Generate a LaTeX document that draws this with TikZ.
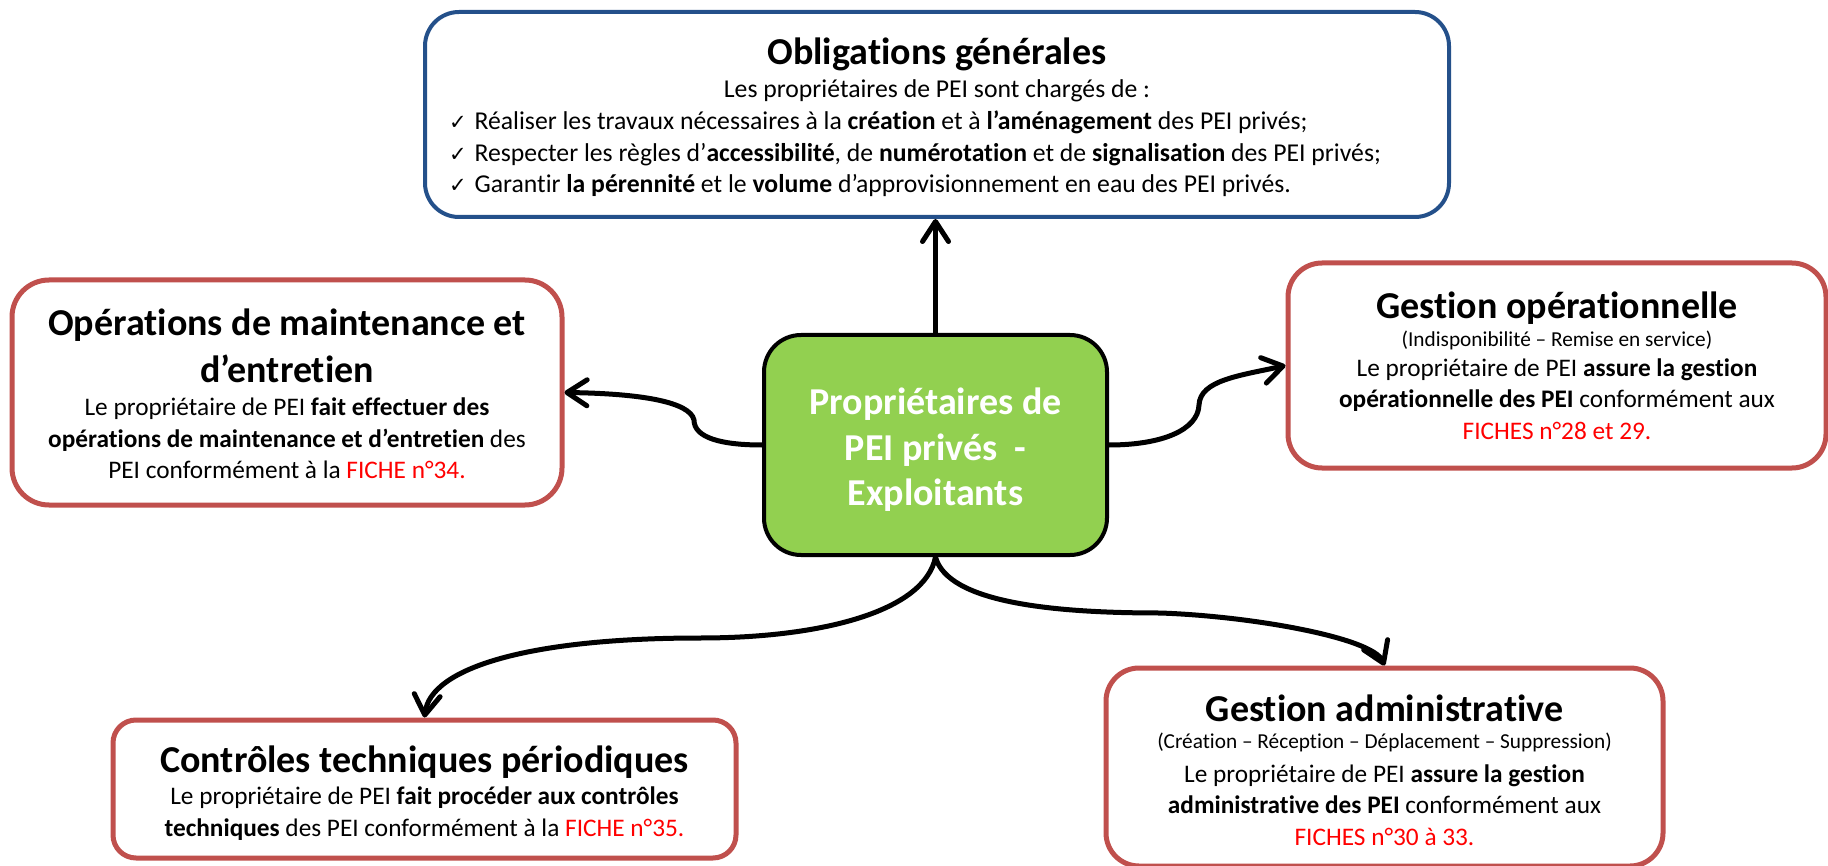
\documentclass[tikz,border=0pt]{standalone}
\usepackage{fontspec}
\setmainfont{Carlito}[Ligatures=NoCommon]
\newfontfamily\dejavu{DejaVu Sans}
\usetikzlibrary{arrows.meta,calc}
\definecolor{boxred}{HTML}{C0504D}
\definecolor{boxblue}{HTML}{24508A}
\definecolor{greenfill}{HTML}{92D050}
\definecolor{fichered}{HTML}{FF0000}
\newcommand{\ttl}[1]{{\fontsize{38}{46}\selectfont\bfseries #1}}
\newcommand{\sml}[1]{{\fontsize{21.3}{24}\selectfont #1}}
\newcommand{\fiche}[1]{\textcolor{fichered}{#1}}
\newcommand{\chk}{{\dejavu\fontsize{21}{21}\selectfont ✓}\hspace{8pt}}
\newcommand{\bodyfont}{\fontsize{25.3}{31.5}\selectfont\lineskiplimit -100pt\relax}
\newcommand{\topfont}{\fontsize{25.7}{31.8}\selectfont\lineskiplimit -100pt\relax}
\newcommand{\greenfont}{\fontsize{38}{45.5}\selectfont\bfseries\lineskiplimit -100pt\relax}
\begin{document}
\begin{tikzpicture}[x=1pt,y=-1pt,
  cbox/.style={rounded corners=#1, inner sep=0pt, fill=white},
  redbox/.style={cbox={#1}, draw=boxred, line width=5pt},
  bluebox/.style={cbox={#1}, draw=boxblue, line width=4pt},
  greenbox/.style={rounded corners=37pt, inner sep=0pt, fill=greenfill,
    draw=black, line width=4pt},
  txt/.style={inner sep=0pt, align=center, font=\bodyfont},
  toptxt/.style={txt, font=\topfont},
  greentxt/.style={inner sep=0pt, align=center, text=white, font=\greenfont},
  conn/.style={line width=5pt, -{Straight Barb[length=20pt,width=26pt,round]}}]
\useasboundingbox (0,0) rectangle (1828,866);

% boxes
\node[bluebox=34pt, minimum width=1024pt, minimum height=205pt] (oblig) at (937,114.5) {};
\node[redbox=37pt, minimum width=550pt, minimum height=225pt] (maint) at (287,392.5) {};
\node[redbox=34pt, minimum width=538pt, minimum height=205pt] (gesop) at (1557,365.5) {};
\node[redbox=23pt, minimum width=623pt, minimum height=138pt] (ctrl) at (424.5,789) {};
\node[redbox=33pt, minimum width=557pt, minimum height=198pt] (gesad) at (1384.5,767) {};
\node[greenbox, minimum width=343pt, minimum height=220pt] (green) at (935.5,445) {};

% texts
\node[toptxt] (oblig-t) at ($(oblig.center)+(0,3)$)
{\ttl{Obligations générales}\\[1pt]
Les propriétaires de PEI sont chargés de :\\
\makebox[976pt][l]{\chk Réaliser les travaux nécessaires à la \textbf{création} et à \textbf{l’aménagement} des PEI privés;}\\
\makebox[976pt][l]{\chk Respecter les règles d’\textbf{accessibilité}, de \textbf{numérotation} et de \textbf{signalisation} des PEI privés;}\\
\makebox[976pt][l]{\chk Garantir \textbf{la pérennité} et le \textbf{volume} d’approvisionnement en eau des PEI privés.}};

\node[txt] (maint-t) at ($(maint.center)+(0,1.5)$)
{\ttl{Opérations de maintenance et}\\[15.5pt]
\ttl{d’entretien}\\[1.5pt]
Le propriétaire de PEI \textbf{fait effectuer des}\\
\textbf{opérations de maintenance et d’entretien} des\\
PEI conformément à la \fiche{FICHE n°34.}};

\node[txt] (gesop-t) at (gesop.center)
{\ttl{Gestion opérationnelle}\\[-3.5pt]
\sml{(Indisponibilité – Remise en service)}\\[-1.5pt]
Le propriétaire de PEI \textbf{assure la gestion}\\
\textbf{opérationnelle des PEI} conformément aux\\
\fiche{FICHES n°28 et 29.}};

\node[txt] (ctrl-t) at ($(ctrl.center)+(0,4)$)
{\ttl{Contrôles techniques périodiques}\\[1pt]
Le propriétaire de PEI \textbf{fait procéder aux contrôles}\\
\textbf{techniques} des PEI conformément à la \fiche{FICHE n°35.}};

\node[txt] (gesad-t) at ($(gesad.center)+(0,3.5)$)
{\ttl{Gestion administrative}\\[-5pt]
\sml{(Création – Réception – Déplacement – Suppression)}\\[2.5pt]
Le propriétaire de PEI \textbf{assure la gestion}\\
\textbf{administrative des PEI} conformément aux\\
\fiche{FICHES n°30 à 33.}};

\node[greentxt] (green-t) at ($(green.center)+(0,5)$)
{Propriétaires de\\ PEI privés\ \ -\\ Exploitants};

% connectors
\coordinate (kL) at (694,420);
\coordinate (kR) at (1199,405);
\coordinate (kBL) at (700,638);
\coordinate (kBR) at (1160,613);

\draw[conn] (green.north) -- (green.north |- oblig.south);
\draw[conn] (green.west) .. controls +(-40,0) and +(0,18) .. (kL)
  .. controls +(-4,-18) and +(77,1) .. (maint.east);
\draw[conn] (green.east) .. controls +(53,0) and +(-1,25) .. (kR)
  .. controls +(1,-25) and +(-45,10) .. (gesop.west);
\draw[conn] (green.south) .. controls +(-11,55) and +(120,0) .. (kBL)
  .. controls +(-170,0) and +(6,-50) .. (ctrl.north);
\draw[conn] (green.south) .. controls +(12,45) and +(-110,0) .. (kBR)
  .. controls +(90,3) and +(-12,-28) .. (gesad.north);
\end{tikzpicture}
\end{document}
